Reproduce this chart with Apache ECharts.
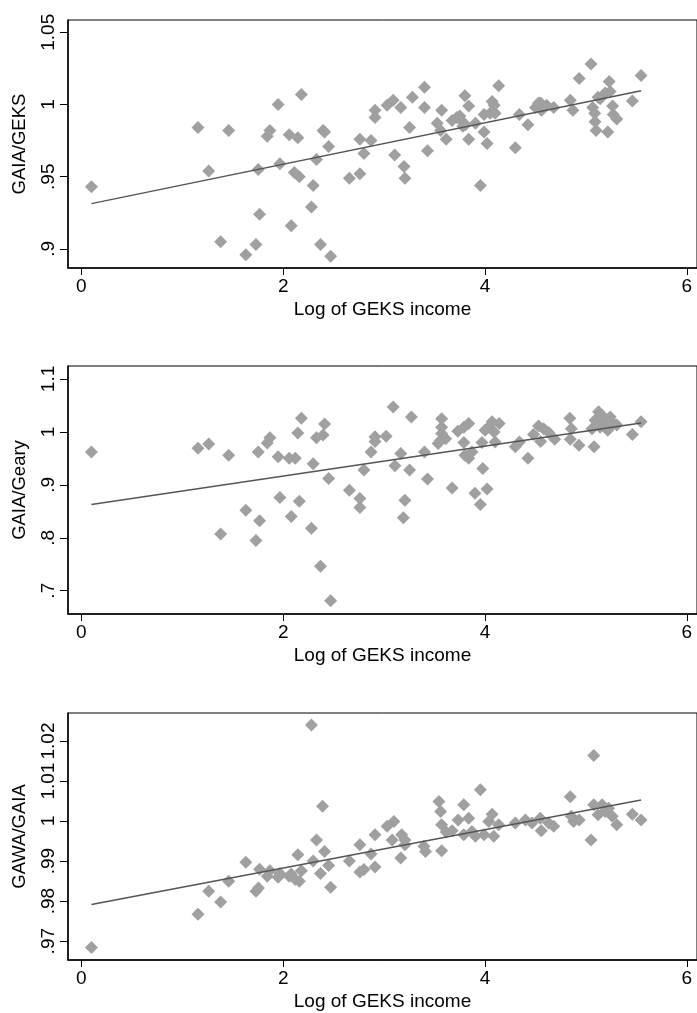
<!DOCTYPE html>
<html>
<head>
<meta charset="utf-8">
<script src="https://cdn.jsdelivr.net/npm/echarts@6/dist/echarts.min.js"></script>
<style>
html,body{margin:0;padding:0;background:#fff;}
#c{width:697px;height:1013px;}
</style>
</head>
<body>
<div id="c"></div>
<script>
// ---- Data ----
const xTicks = [0, 2, 4, 6];
const yTicks1 = [0.9, 0.95, 1, 1.05];
const yTicks2 = [0.7, 0.8, 0.9, 1, 1.1];
const yTicks3 = [0.97, 0.98, 0.99, 1, 1.01, 1.02];
const yTitles = ['GAIA/GEKS', 'GAIA/Geary', 'GAWA/GAIA'];
const xTitle = 'Log of GEKS income';

// Panel 1: GAIA/GEKS
const x1 = [0.10,1.156,1.262,1.46,1.38,1.63,1.73,1.753,1.766,1.842,1.868,1.95,1.967,2.06,2.08,2.145,2.11,2.16,2.18,2.297,2.28,2.33,2.37,2.395,2.41,2.45,2.47,2.656,2.76,2.76,2.80,2.87,2.91,2.91,3.03,3.09,3.165,3.105,3.197,3.206,3.252,3.28,3.40,3.40,3.43,3.526,3.57,3.56,3.615,3.674,3.72,3.765,3.80,3.806,3.838,3.838,3.905,3.954,3.99,3.99,4.02,4.07,4.05,4.10,4.135,4.09,4.30,4.34,4.425,4.50,4.53,4.56,4.61,4.68,4.845,4.87,4.933,5.05,5.066,5.086,5.09,5.10,5.14,5.19,5.23,5.24,5.216,5.264,5.27,5.305,5.46,5.546,3.75,3.78,4.55,5.12];
const y1 = [0.943,0.984,0.954,0.982,0.905,0.896,0.903,0.955,0.924,0.978,0.982,1.000,0.959,0.979,0.916,0.977,0.953,0.950,1.007,0.944,0.929,0.962,0.903,0.982,0.981,0.971,0.895,0.949,0.952,0.976,0.966,0.975,0.991,0.996,0.9995,1.003,0.998,0.965,0.957,0.949,0.984,1.005,1.012,0.998,0.968,0.987,0.996,0.982,0.976,0.989,0.991,0.989,1.006,0.986,0.999,0.976,0.987,0.944,0.981,0.993,0.973,1.002,0.994,0.994,1.013,0.9995,0.970,0.993,0.986,0.998,1.001,0.996,0.9995,0.998,1.003,0.996,1.018,1.028,0.998,0.994,0.988,0.982,1.004,1.008,1.016,1.009,0.981,0.999,0.993,0.990,1.0025,1.020,0.992,0.985,1.001,1.005];

// Panel 2: GAIA/Geary
const x2 = [0.10,1.156,1.262,1.46,1.38,1.63,1.73,1.753,1.766,1.842,1.868,1.95,1.967,2.06,2.08,2.12,2.145,2.16,2.18,2.297,2.28,2.33,2.37,2.395,2.41,2.45,2.47,2.656,2.76,2.76,2.80,2.87,2.91,2.91,3.02,3.09,3.107,3.165,3.206,3.19,3.252,3.27,3.40,3.43,3.535,3.56,3.57,3.57,3.57,3.61,3.674,3.73,3.79,3.838,3.79,3.80,3.838,3.87,3.90,3.954,3.977,3.97,4.02,4.0,4.036,4.07,4.09,4.10,4.14,4.30,4.34,4.425,4.48,4.53,4.55,4.58,4.63,4.69,4.84,4.855,4.845,4.93,5.08,5.06,5.09,5.125,5.16,5.14,5.19,5.216,5.24,5.27,5.305,5.46,5.546];
const y2 = [0.962,0.969,0.977,0.956,0.807,0.852,0.795,0.962,0.832,0.979,0.989,0.953,0.876,0.950,0.840,0.950,0.998,0.869,1.026,0.940,0.818,0.989,0.746,0.994,1.015,0.912,0.681,0.890,0.857,0.874,0.928,0.962,0.991,0.982,0.992,1.047,0.936,0.959,0.871,0.838,0.928,1.028,0.962,0.911,0.978,0.984,1.025,1.009,0.997,0.987,0.894,1.001,1.009,1.016,0.980,0.956,0.950,0.962,0.884,0.863,0.931,0.980,0.892,1.003,1.009,1.019,1.000,0.981,1.016,0.972,0.981,0.950,0.995,1.011,0.982,1.006,0.999,0.986,1.026,1.006,0.986,0.975,0.972,1.006,1.022,1.038,1.031,1.009,1.022,1.003,1.028,1.016,1.013,0.995,1.019];

// Panel 3: GAWA/GAIA
const x3 = [0.10,1.156,1.262,1.38,1.46,1.63,1.73,1.755,1.766,1.842,1.868,1.95,1.967,2.06,2.08,2.12,2.145,2.16,2.18,2.28,2.297,2.33,2.37,2.39,2.41,2.45,2.47,2.656,2.76,2.76,2.80,2.87,2.91,2.91,3.03,3.097,3.08,3.174,3.206,3.165,3.206,3.394,3.41,3.57,3.543,3.56,3.57,3.615,3.674,3.733,3.789,3.789,3.838,3.87,3.905,3.954,3.99,4.037,4.07,4.086,4.135,4.30,4.40,4.465,4.547,4.557,4.63,4.68,4.844,4.854,4.877,4.933,5.05,5.077,5.077,5.12,5.16,5.19,5.224,5.26,5.305,5.46,5.546];
const y3 = [0.9684,0.9767,0.9825,0.9798,0.9850,0.9897,0.9825,0.9833,0.9880,0.9862,0.9876,0.9860,0.9869,0.9862,0.9868,0.9854,0.9916,0.9850,0.9876,1.0240,0.9900,0.9953,0.9869,1.0037,0.9924,0.9889,0.9835,0.9900,0.9941,0.9873,0.9879,0.9918,0.9966,0.9885,0.9987,0.9999,0.9953,0.9966,0.9953,0.9908,0.9941,0.9937,0.9924,0.9926,1.0049,1.0024,0.9991,0.9973,0.9976,1.0003,1.0041,0.9966,1.0007,0.9974,0.9962,1.0078,0.9966,0.9999,1.0017,0.9962,0.9991,0.9995,1.0003,0.9995,1.0007,0.9976,0.9995,0.9987,1.0061,1.0012,0.9999,1.0003,0.9953,1.0164,1.0041,1.0016,1.0041,1.0024,1.0032,1.0012,0.9991,1.0017,1.0003];

// Linear fit (intercept, slope)
const fit1 = [0.9299, 0.01436];
const fit2 = [0.8600, 0.02828];
const fit3 = [0.9787, 0.004793];

// ---- Build chart ----
const panels = [
  {x: x1, y: y1, fit: fit1, ticks: yTicks1, ymin: 0.8868, ymax: 1.0585, top: 20, height: 248},
  {x: x2, y: y2, fit: fit2, ticks: yTicks2, ymin: 0.656, ymax: 1.1245, top: 366, height: 248},
  {x: x3, y: y3, fit: fit3, ticks: yTicks3, ymin: 0.9653, ymax: 1.027, top: 713, height: 247}
];
const FONT = 'Liberation Sans, Arial, Helvetica, sans-serif';
const fmt = v => { let s = String(+v.toFixed(4)); return s.replace(/^0\./, '.'); };

const grid = [], xAxis = [], yAxis = [], series = [];
panels.forEach((p, i) => {
  grid.push({left: 68, width: 631, top: p.top, height: p.height, show: true,
    borderColor: '#000', borderWidth: 1, backgroundColor: '#fff'});
  xAxis.push({type: 'value', gridIndex: i, min: -0.132, max: 6.1,
    name: xTitle, nameLocation: 'middle', nameGap: 32,
    nameTextStyle: {fontFamily: FONT, fontSize: 19, color: '#000'},
    axisLine: {show: true, onZero: false, lineStyle: {color: '#000', width: 1.5}},
    axisTick: {show: true, length: 7, lineStyle: {color: '#000', width: 1}, customValues: xTicks},
    axisLabel: {show: true, margin: 9, fontFamily: FONT, fontSize: 19, color: '#000', customValues: xTicks, formatter: fmt},
    splitLine: {show: false}});
  yAxis.push({type: 'value', gridIndex: i, min: p.ymin, max: p.ymax,
    name: yTitles[i], nameLocation: 'middle', nameGap: 39, nameRotate: 90,
    nameTextStyle: {fontFamily: FONT, fontSize: 18.5, color: '#000'},
    axisLine: {show: true, onZero: false, lineStyle: {color: '#000', width: 1.5}},
    axisTick: {show: true, length: 8, lineStyle: {color: '#000', width: 1}, customValues: p.ticks},
    axisLabel: {show: true, rotate: 90, margin: 10, fontFamily: FONT, fontSize: 19, color: '#000', customValues: p.ticks, formatter: fmt},
    splitLine: {show: false}});
  series.push({type: 'scatter', xAxisIndex: i, yAxisIndex: i, symbol: 'diamond', symbolSize: [13, 13],
    itemStyle: {color: '#a0a0a0', opacity: 1}, silent: true, animation: false,
    data: p.x.map((v, k) => [v, p.y[k]])});
  const xa = Math.min(...p.x), xb = Math.max(...p.x);
  series.push({type: 'line', xAxisIndex: i, yAxisIndex: i, symbol: 'none', silent: true, animation: false,
    lineStyle: {color: '#555', width: 1.4}, z: 3,
    data: [[xa, p.fit[0] + p.fit[1] * xa], [xb, p.fit[0] + p.fit[1] * xb]]});
});

const chart = echarts.init(document.getElementById('c'), null, {renderer: 'canvas'});
chart.setOption({backgroundColor: '#fff', animation: false, grid, xAxis, yAxis, series});
</script>
</body>
</html>
